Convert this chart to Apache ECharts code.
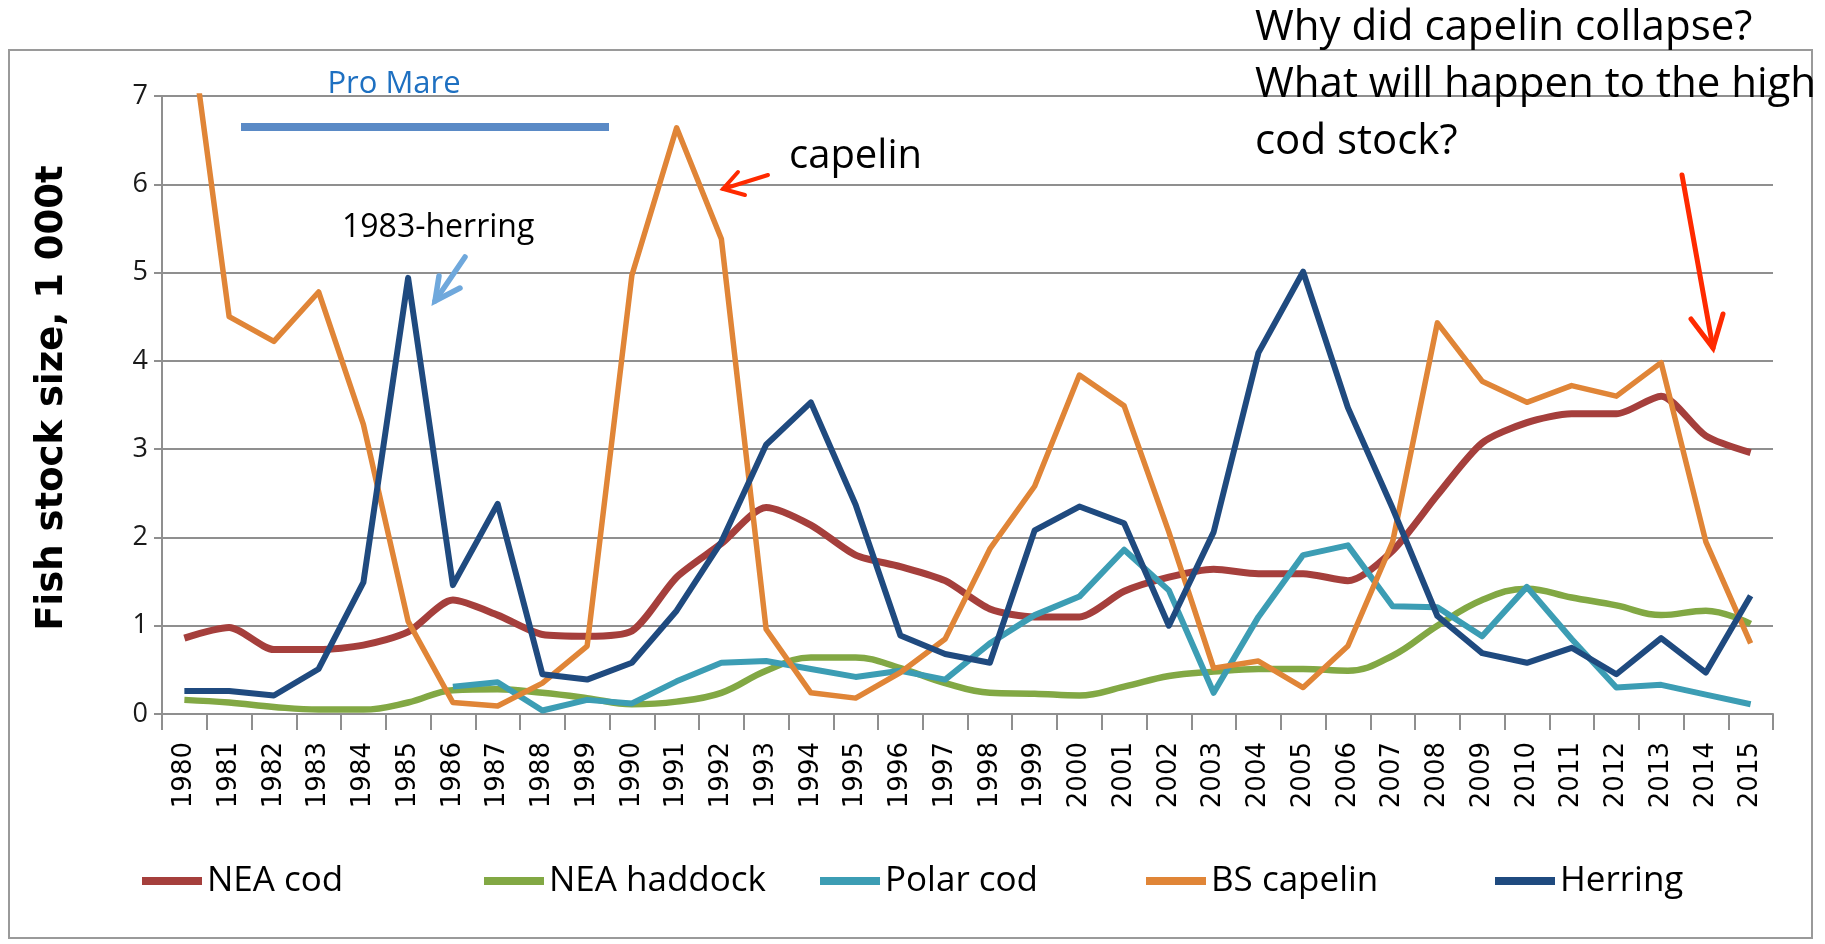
<!DOCTYPE html>
<html>
<head>
<meta charset="utf-8">
<title>Fish stock size</title>
<script src="https://cdn.jsdelivr.net/npm/echarts@6/dist/echarts.min.js"></script>
<style>
  html, body { margin: 0; padding: 0; background: #fff; }
  #graph { width: 1825px; height: 944px; }
</style>
</head>
<body>
<div id="graph"></div>
<script>
var years = ['1980','1981','1982','1983','1984','1985','1986','1987','1988','1989',
             '1990','1991','1992','1993','1994','1995','1996','1997','1998','1999',
             '2000','2001','2002','2003','2004','2005','2006','2007','2008','2009',
             '2010','2011','2012','2013','2014','2015'];

var neaCod = [0.86,0.98,0.73,0.73,0.78,0.93,1.29,1.12,0.90,0.88,0.94,1.55,1.93,2.34,2.14,1.80,1.67,1.51,
              1.19,1.10,1.10,1.39,1.55,1.64,1.59,1.59,1.51,1.85,2.48,3.07,3.30,3.40,3.40,3.60,3.15,2.96];
var neaHaddock = [0.16,0.13,0.08,0.05,0.05,0.13,0.27,0.28,0.24,0.18,0.11,0.14,0.24,0.49,0.64,0.64,0.52,0.35,
                  0.24,0.23,0.21,0.31,0.43,0.48,0.51,0.51,0.49,0.66,1.00,1.29,1.42,1.32,1.23,1.12,1.17,1.02];
var polarCod = [null,null,null,null,null,null,0.31,0.36,0.04,0.16,0.12,0.37,0.58,0.60,0.51,0.42,0.49,0.39,
                0.80,1.12,1.33,1.86,1.40,0.24,1.10,1.80,1.91,1.22,1.21,0.88,1.44,0.85,0.30,0.33,0.22,0.11];
var bsCapelin = [8.3,4.50,4.22,4.78,3.28,1.05,0.13,0.09,0.35,0.77,4.97,6.64,5.38,0.96,0.24,0.18,0.47,0.85,
                 1.87,2.58,3.84,3.49,2.06,0.52,0.60,0.30,0.77,1.95,4.43,3.77,3.53,3.72,3.60,3.98,1.95,0.80];
var herring = [0.26,0.26,0.21,0.51,1.49,4.94,1.46,2.38,0.45,0.39,0.58,1.17,1.95,3.05,3.53,2.37,0.89,0.68,
               0.58,2.08,2.35,2.16,1.00,2.06,4.09,5.01,3.47,2.33,1.11,0.69,0.58,0.75,0.45,0.86,0.47,1.34];

var seriesNames = ['NEA cod', 'NEA haddock', 'Polar cod', 'BS capelin', 'Herring'];
var seriesColors = ['#A53F3C', '#82A844', '#3C9DB4', '#E08537', '#1F4A7F'];
var legendLefts = [137, 479, 815, 1141, 1490];

function run () {
    var chart = echarts.init(document.getElementById('graph'));
    var gray = '#8f8f8f';
    var font = "'Open Sans', sans-serif";

    var allData = [neaCod, neaHaddock, polarCod, bsCapelin, herring];
    var widths = [7, 6.5, 6, 5.5, 6];
    var smooths = [0.25, 0.4, false, false, false];

    var series = allData.map(function (d, i) {
        return {
            name: seriesNames[i],
            type: 'line',
            data: d,
            color: seriesColors[i],
            showSymbol: false,
            symbol: 'none',
            smooth: smooths[i],
            clip: true,
            lineStyle: { width: widths[i], color: seriesColors[i], join: 'round' }
        };
    });

    var legends = seriesNames.map(function (n, i) {
        return {
            data: [n],
            left: legendLefts[i],
            top: 856,
            icon: 'rect',
            itemWidth: 60,
            itemHeight: 8,
            itemGap: 0,
            textStyle: { fontFamily: font, fontSize: 35, color: '#000', lineHeight: 40 },
            selectedMode: false
        };
    });

    // arrows and notes
    function arrow (pts, color, w) {
        var tip = pts[1];
        return [
            { type: 'polyline', z: 20, shape: { points: [pts[0], tip] },
              style: { stroke: color, lineWidth: w, fill: null, lineCap: 'round' } },
            { type: 'polyline', z: 20, shape: { points: [pts[2], tip, pts[3]] },
              style: { stroke: color, lineWidth: w, fill: null, lineCap: 'round', lineJoin: 'miter' } }
        ];
    }

    var graphics = [
        { type: 'rect', z: 0, shape: { x: 9, y: 50, width: 1803, height: 888 },
          style: { stroke: '#9a9a9a', lineWidth: 2, fill: null } },
        { type: 'text', z: 20, x: 52, y: 398, rotation: Math.PI / 2,
          style: { text: 'Fish stock size, 1 000t', font: "bold 37px 'DejaVu Sans'", fill: '#000',
                   align: 'center', verticalAlign: 'middle' } },
        { type: 'text', z: 20, x: 394, y: 84,
          style: { text: 'Pro Mare', font: "31px 'Open Sans'", fill: '#1E70C1',
                   align: 'center', verticalAlign: 'middle' } },
        { type: 'rect', z: 20, shape: { x: 241, y: 123, width: 368, height: 8 },
          style: { fill: '#5A8AC6' } },
        { type: 'text', z: 20, x: 789, y: 157,
          style: { text: 'capelin', font: "40px 'Open Sans'", fill: '#000',
                   align: 'left', verticalAlign: 'middle' } },
        { type: 'text', z: 20, x: 342, y: 228,
          style: { text: '1983-herring', font: "32px 'Open Sans'", fill: '#000',
                   align: 'left', verticalAlign: 'middle' } },
        { type: 'text', z: 20, x: 1255, y: 28,
          style: { text: 'Why did capelin collapse?', font: "42px 'Open Sans'", fill: '#000',
                   align: 'left', verticalAlign: 'middle' } },
        { type: 'text', z: 20, x: 1255, y: 85,
          style: { text: 'What will happen to the high', font: "42px 'Open Sans'", fill: '#000',
                   align: 'left', verticalAlign: 'middle' } },
        { type: 'text', z: 20, x: 1255, y: 142,
          style: { text: 'cod stock?', font: "42px 'Open Sans'", fill: '#000',
                   align: 'left', verticalAlign: 'middle' } }
    ];
    graphics = graphics
        .concat(arrow([[768, 175], [723, 189], [738, 172], [745, 195]], '#FF2A00', 4))
        .concat(arrow([[465, 257], [435, 301], [439, 276], [460, 288]], '#6FA8DC', 5.5))
        .concat(arrow([[1682, 175], [1713, 348], [1691, 319], [1723, 314]], '#FF2A00', 5));

    var option = {
        backgroundColor: '#fff',
        animation: false,
        grid: { left: 162, right: 52, top: 96, bottom: 230, containLabel: false },
        legend: legends,
        xAxis: {
            type: 'category',
            data: years,
            boundaryGap: true,
            axisLine: { lineStyle: { color: gray, width: 2 } },
            axisTick: { show: true, interval: 0, length: 16, lineStyle: { color: gray, width: 2 } },
            axisLabel: { interval: 0, rotate: 90, margin: 28, fontFamily: 'DejaVu Sans',
                         fontSize: 26, color: '#000' }
        },
        yAxis: {
            type: 'value',
            min: 0,
            max: 7,
            interval: 1,
            axisLine: { show: true, lineStyle: { color: gray, width: 2 } },
            axisTick: { show: true, length: 8, lineStyle: { color: gray, width: 2 } },
            splitLine: { show: true, lineStyle: { color: gray, width: 2 } },
            axisLabel: { margin: 14, fontFamily: font, fontSize: 27, color: '#1a1a1a' }
        },
        series: series,
        graphic: graphics
    };

    chart.setOption(option);
}

if (document.readyState !== 'loading') {
    run();
} else {
    document.addEventListener('DOMContentLoaded', run);
}
</script>
</body>
</html>
